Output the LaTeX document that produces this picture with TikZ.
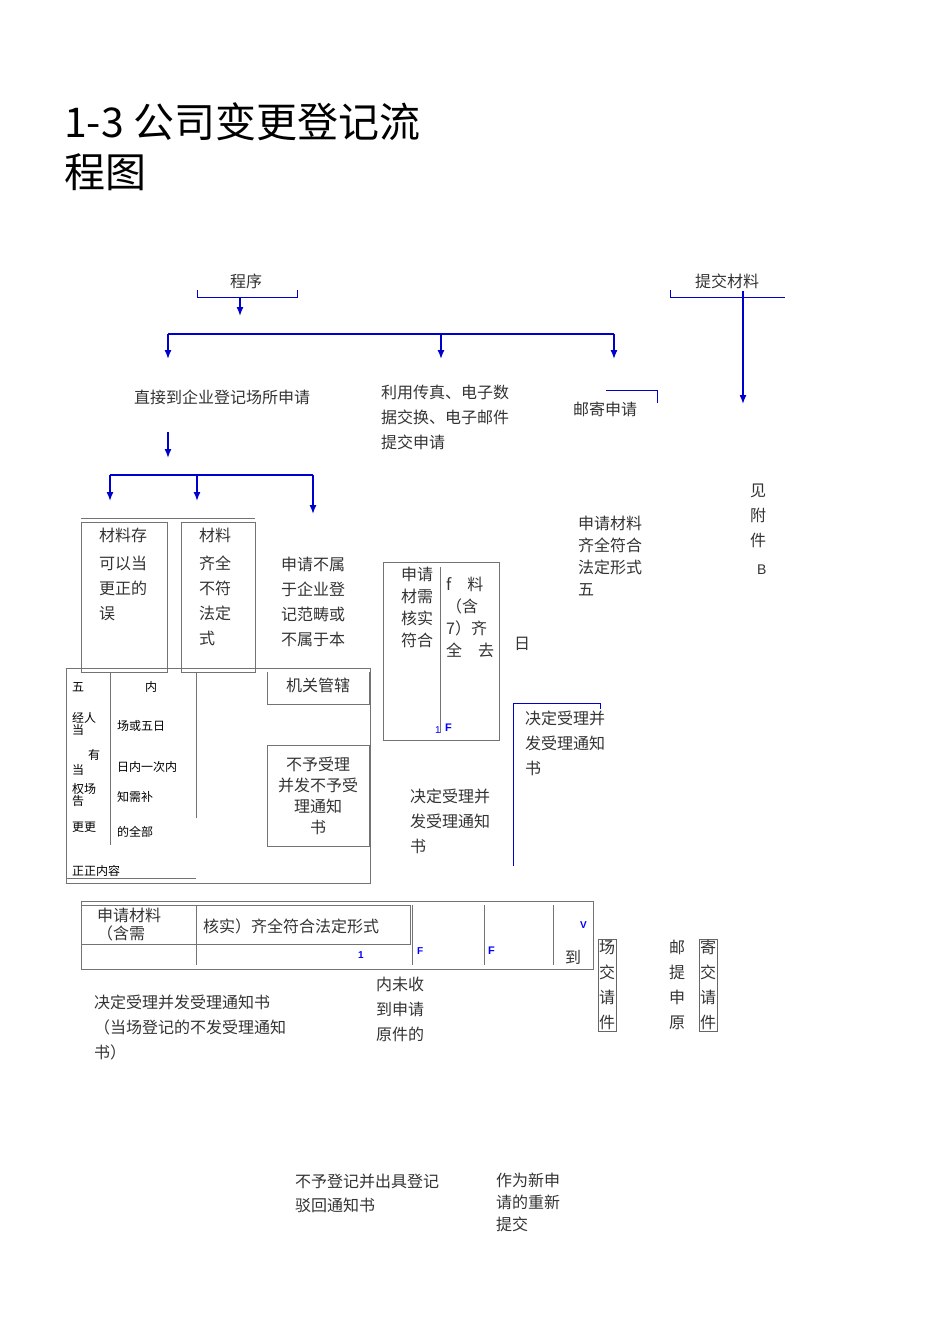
\documentclass[tikz,border=0pt]{standalone}
\usepackage{fontspec}
\usetikzlibrary{arrows.meta}
\setmainfont{Noto Sans CJK SC}
\newfontfamily\lat{Liberation Sans}
\begin{document}
\begin{tikzpicture}[x=1pt,y=-1pt,
  t/.style={anchor=west,inner sep=0pt,font=\fontsize{16}{16}\selectfont,text=black!80},
  s/.style={anchor=west,inner sep=0pt,font=\fontsize{12}{12}\selectfont},
  ml/.style={anchor=north west,inner sep=0pt,align=left,font=\fontsize{16}{25}\selectfont,text=black!80},
  bl/.style={blue!80!black,line width=1.4pt},
  ar/.style={bl,-{Latex[length=9pt,width=7pt]}},
  gb/.style={draw=black!55,line width=0.7pt},
  bx/.style={draw=black!60,line width=0.7pt,inner sep=1pt}]
\useasboundingbox (0,0) rectangle (950,1344);
\node[anchor=west,inner sep=0pt,font=\fontsize{41}{41}\selectfont] (t1) at (64,122) {1-3 公司变更登记流};
\node[anchor=west,inner sep=0pt,font=\fontsize{41}{41}\selectfont] (t2) at (64,172) {程图};
% top
\node[t] (p1) at (230,281) {程序};
\draw[bl,line width=1pt] (197,290) -- (197,297) -- (297,297) -- (297,290);
\coordinate (a0) at (240,297); \coordinate (a1) at (240,316);
\draw[ar] (a0) -- (a1);
\node[t] (p2) at (695,281) {提交材料};
\draw[bl,line width=1pt] (670,290) -- (670,297) -- (785,297);
\coordinate (b0) at (743,291); \coordinate (b1) at (743,404);
\draw[ar] (b0) -- (b1);
\draw[bl] (168,334) -- (614,334);
\foreach \x in {168,441,614}{\draw[ar] (\x,334) -- (\x,359);}
\node[t] (d1) at (134,397) {直接到企业登记场所申请};
\node[ml] (d2) at (381,385) {利用传真、电子数\\据交换、电子邮件\\提交申请};
\node[t] (d3) at (573,409) {邮寄申请};
\draw[bl,line width=1pt] (606,390) -- (657,390) -- (657,403);
\draw[ar] (168,432) -- (168,458);
\draw[bl] (110,475) -- (313,475);
\draw[ar] (110,475) -- (110,501);
\draw[ar] (197,475) -- (197,501);
\draw[ar] (313,475) -- (313,514);
% boxes
\draw[gb] (81,518) -- (255,518);
\draw[gb] (81,522) rectangle (167,672);
\draw[gb] (181,522) rectangle (255,672);
\node[t] (m1) at (99,535) {材料存};
\node[ml] (m1b) at (99,556) {可以当\\更正的\\误};
\node[t] (m2) at (199,535) {材料};
\node[ml] (m2b) at (199,556) {齐全\\不符\\法定\\式};
\node[ml] (n1) at (281,557) {申请不属\\于企业登\\记范畴或\\不属于本};
\draw[gb] (66,668) rectangle (370,883);
\draw[gb] (110,673) -- (110,845);
\draw[gb] (196,673) -- (196,818);
\draw[gb] (66,878) -- (196,878);
\node[s] at (72,687) {五};
\node[s] at (145,687) {内};
\node[s,align=left,anchor=north west] at (72,712) {经人\\当};
\node[s] at (88,755) {有};
\node[s] at (72,770) {当};
\node[s,align=left,anchor=north west] at (72,783) {权场\\告};
\node[s] at (72,827) {更更};
\node[s] at (117,726) {场或五日};
\node[s] at (117,767) {日内一次内};
\node[s] at (117,797) {知需补};
\node[s] at (117,832) {的全部};
\node[s] at (72,871) {正正内容};
\draw[gb] (267,672) -- (267,704) -- (369,704) -- (369,672);
\node[t] (jg) at (286,685) {机关管辖};
\draw[gb] (267,745) rectangle (369,846);
\node[align=center,inner sep=0pt,font=\fontsize{16}{21}\selectfont,text=black!80] (bs) at (318,796) {不予受理\\并发不予受\\理通知\\书};
\draw[gb] (383,562) rectangle (499,740);
\draw[gb] (440,567) -- (440,733);
\node[ml,font=\fontsize{16}{22}\selectfont] (hs) at (401,567) {申请\\材需\\核实\\符合};
\node[ml,font=\fontsize{16}{22}\selectfont] (hs2) at (446,577) {f\quad 料\\（含\\7）齐\\全\quad 去};
\node[s,text=blue,font=\lat\fontsize{10}{10}\selectfont] at (435,730) {1};
\node[s,text=blue,font=\lat\bfseries\fontsize{11}{11}\selectfont] at (445,728) {F};
\node[t] at (514,644) {日};
\draw[bl,line width=1pt] (600,709) -- (600,703) -- (513,703) -- (513,866);
\node[ml] (j1) at (525,711) {决定受理并\\发受理通知\\书};
\node[ml] (j2) at (410,789) {决定受理并\\发受理通知\\书};
\node[ml,font=\fontsize{16}{22}\selectfont] (q1) at (578,516) {申请材料\\齐全符合\\法定形式\\五};
\node[ml] (q2) at (750,484) {见\\附\\件};
\node[t,font=\lat\fontsize{14}{14}\selectfont] at (757,570) {B};
% bottom table
\draw[gb] (81,901) rectangle (593,969);
\draw[gb] (81,905) rectangle (410,944);
\draw[gb] (196,905) -- (196,965);
\foreach \x in {412,484,553}{\draw[gb] (\x,905) -- (\x,965);}
\node[ml,font=\fontsize{16}{18}\selectfont] (c1) at (97,908) {申请材料\\（含需};
\node[t] (c2) at (203,926) {核实）齐全符合法定形式};
\node[s,text=blue,font=\lat\bfseries\fontsize{10}{10}\selectfont] at (358,955) {1};
\node[s,text=blue,font=\lat\bfseries\fontsize{10}{10}\selectfont] at (417,951) {F};
\node[s,text=blue,font=\lat\bfseries\fontsize{11}{11}\selectfont] at (488,951) {F};
\node[s,text=blue,font=\lat\bfseries\fontsize{10}{10}\selectfont] at (580,925) {V};
\node[t] at (565,957) {到};
\node[bx,anchor=north,align=center,font=\fontsize{16}{25}\selectfont,text=black!80] (v1) at (607,939) {场\\交\\请\\件};
\node[anchor=north,inner sep=1pt,align=center,font=\fontsize{16}{25}\selectfont,text=black!80] (v2) at (677,939) {邮\\提\\申\\原};
\node[bx,anchor=north,align=center,font=\fontsize{16}{25}\selectfont,text=black!80] (v3) at (708,939) {寄\\交\\请\\件};
\node[ml] (e1) at (94,995) {决定受理并发受理通知书\\（当场登记的不发受理通知\\书）};
\node[ml] (e2) at (376,977) {内未收\\到申请\\原件的};
\node[ml,font=\fontsize{16}{24}\selectfont] (e3) at (295,1174) {不予登记并出具登记\\驳回通知书};
\node[ml,font=\fontsize{16}{22}\selectfont] (e4) at (496,1173) {作为新申\\请的重新\\提交};
\end{tikzpicture}
\end{document}
